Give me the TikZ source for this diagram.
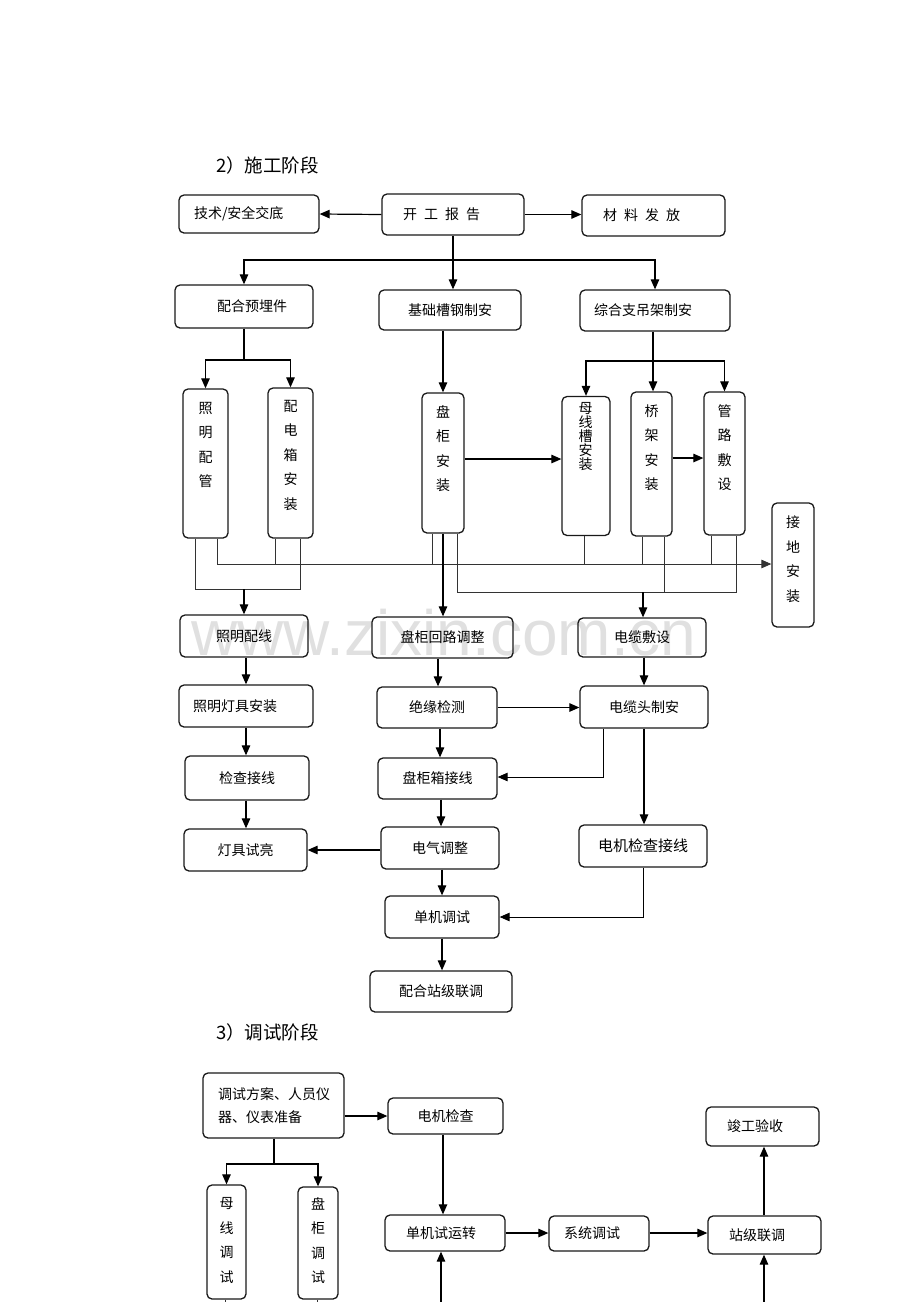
\documentclass[tikz,border=0pt]{standalone}
\usepackage{fontspec}
\setmainfont{Noto Sans CJK SC}
\newfontfamily\wmfont{Liberation Sans}
\usetikzlibrary{arrows.meta}
\newcommand{\myfs}[2]{\fontsize{#1}{#2}\selectfont}
\begin{document}
\begin{tikzpicture}[x=1pt,y=-1pt,
  box/.style={draw=black!90, rounded corners=5pt, line width=1.3pt, inner sep=0pt, font=\myfs{14}{16}},
  vt/.style={align=center, inner sep=0pt, font=\myfs{14}{24.5}},
  arr/.style={line width=1.2pt, -{Triangle[length=10pt,width=8.5pt]}},
  ln/.style={line width=1.2pt},
  wire/.style={line width=0.9pt, draw=black!80},
  ttl/.style={anchor=west, inner sep=0pt, font=\myfs{18.5}{20}},
  wm/.style={inner sep=0pt, text=black!12, font=\wmfont\myfs{64}{70}}]
\useasboundingbox (0,0) rectangle (920,1302);
% watermark
\node[wm] (wm) at (444,633) {www.zixin.com.cn};
% titles
\node[ttl] (t2) at (216,165) {2）施工阶段};
\node[ttl] (t3) at (216,1032) {3）调试阶段};
% ---------- stage 2 ----------
\node[box, minimum width=140pt, minimum height=38pt, text width=110pt, align=left] (jishu) at (249,214) {技术/安全交底};
\node[box, minimum width=142pt, minimum height=41pt, text width=100pt, align=left] (kaigong) at (453,214.5) {开\hspace{7pt}工\hspace{7pt}报\hspace{7pt}告};
\node[box, minimum width=143pt, minimum height=41pt, text width=101pt, align=left] (cailiao) at (653.5,215.5) {材\hspace{7pt}料\hspace{7pt}发\hspace{7pt}放};
\node[box, minimum width=138pt, minimum height=43pt, text width=86pt, align=right] (peihe) at (244,306.5) {配合预埋件};
\node[box, minimum width=142pt, minimum height=40pt] (jichu) at (450,310) {基础槽钢制安};
\node[box, minimum width=150pt, minimum height=41pt, text width=122pt, align=left] (zonghe) at (655,310.5) {综合支吊架制安};
% vertical boxes
\node[box, minimum width=45pt, minimum height=149pt] (zmpg) at (205.5,463.5) {};
\node[vt] (zmpgT) at (205.5,445) {照\\明\\配\\管};
\node[box, minimum width=45pt, minimum height=150pt] (pdx) at (290.5,463) {};
\node[vt] (pdxT) at (290.5,455) {配\\电\\箱\\安\\装};
\node[box, minimum width=42pt, minimum height=140pt] (pgaz) at (443,463) {};
\node[vt] (pgazT) at (443,448.5) {盘\\柜\\安\\装};
\node[box, minimum width=48pt, minimum height=139pt] (mxc) at (586,466) {};
\node[vt, font=\myfs{14}{14}] (mxcT) at (585.5,437) {母\\线\\槽\\安\\装};
\node[box, minimum width=41pt, minimum height=144pt] (qj) at (651.5,464) {};
\node[vt] (qjT) at (651.5,447.5) {桥\\架\\安\\装};
\node[box, minimum width=41pt, minimum height=143pt] (glfs) at (724.5,463.5) {};
\node[vt] (glfsT) at (724.5,447.5) {管\\路\\敷\\设};
\node[box, minimum width=42pt, minimum height=124pt] (jd) at (793,565) {};
\node[vt] (jdT) at (793,559) {接\\地\\安\\装};
% lower rows
\node[box, minimum width=128pt, minimum height=42pt] (zmpx) at (244,636) {照明配线};
\node[box, minimum width=141pt, minimum height=41pt] (pghl) at (442.5,637.5) {盘柜回路调整};
\node[box, minimum width=128pt, minimum height=39pt] (dlfs) at (642,637.5) {电缆敷设};
\node[box, minimum width=134pt, minimum height=42pt, text width=106pt, align=left] (zmdj) at (246,706) {照明灯具安装};
\node[box, minimum width=120pt, minimum height=41pt] (jyjc) at (437,707.5) {绝缘检测};
\node[box, minimum width=128pt, minimum height=42pt] (dlt) at (644,707) {电缆头制安};
\node[box, minimum width=124pt, minimum height=44pt] (jcjx) at (247,778) {检查接线};
\node[box, minimum width=119pt, minimum height=41pt] (pgxjx) at (437.5,778.5) {盘柜箱接线};
\node[box, minimum width=123pt, minimum height=42pt] (djsl) at (245.5,850) {灯具试亮};
\node[box, minimum width=118pt, minimum height=42pt] (dqtz) at (440,848) {电气调整};
\node[box, minimum width=128pt, minimum height=42pt, font=\myfs{15}{17}] (djjcjx) at (643,846) {电机检查接线};
\node[box, minimum width=114pt, minimum height=42pt] (djts) at (442,917) {单机调试};
\node[box, minimum width=142pt, minimum height=41pt] (phzj) at (441,991.5) {配合站级联调};
% connectors stage 2
\draw[arr] (kaigong.west) -- (jishu.east);
\draw[arr] (kaigong.east) -- (kaigong.east -| cailiao.west);
\coordinate (b1) at (453,260);
\draw[ln] (kaigong.south) -- (b1);
\draw[arr] (b1) -- (kaigong.south |- jichu.north);
\draw[arr] (b1) -| (peihe.north);
\draw[arr] (b1) -| (zonghe.north);
\coordinate (b2) at (244,360);
\draw[ln] (peihe.south) -- (b2);
\draw[arr] (b2) -| (zmpg.north);
\draw[arr] (b2) -| (pdx.north);
\draw[arr] (pgaz.north |- jichu.south) -- (pgaz.north);
\coordinate (b3) at (653,361);
\draw[ln] (b3 |- zonghe.south) -- (b3);
\draw[arr] (b3) -- (b3 |- qj.north);
\draw[arr] (b3) -| (mxc.north);
\draw[arr] (b3) -| (glfs.north);
\draw[arr] (pgaz.east |- 0,459) -- (mxc.west |- 0,459);
\draw[arr] (qj.east |- 0,458) -- (glfs.west |- 0,458);
% wires to grounding
\draw[wire, arr, line width=0.9pt] (zmpg.south -| 217,0) -- (217,564) -- (jd.west |- 0,564);
\foreach \n/\x in {pdx/275, pgaz/432, mxc/584, qj/642, glfs/711}
  \draw[wire] (\n.south -| \x,0) -- (\x,564);
\draw[wire] (zmpg.south -| 195,0) -- (195,589) -- (300,589) -- (pdx.south -| 300,0);
\coordinate (b4) at (244,589);
\draw[arr] (b4) -- (zmpx.north);
\draw[arr] (pgaz.south) -- (pgaz.south |- pghl.north);
\draw[wire] (pgaz.south -| 457,0) -- (457,592) -- (736,592) -- (glfs.south -| 736,0);
\draw[wire] (qj.south -| 664,0) -- (664,592);
\coordinate (b5) at (643,592);
\draw[arr] (b5) -- (b5 |- dlfs.north);
% lower chain
\draw[arr] (zmpx.south -| 246,0) -- (zmdj.north -| 246,0);
\draw[arr] (zmdj.south -| 246,0) -- (jcjx.north -| 246,0);
\draw[arr] (jcjx.south -| 246,0) -- (djsl.north -| 246,0);
\draw[arr] (pghl.south -| 438,0) -- (jyjc.north -| 438,0);
\draw[arr] (jyjc.south -| 440,0) -- (pgxjx.north -| 440,0);
\draw[arr] (pgxjx.south -| 441,0) -- (dqtz.north -| 441,0);
\draw[arr] (dqtz.south -| 442,0) -- (djts.north -| 442,0);
\draw[arr] (djts.south -| 442,0) -- (phzj.north -| 442,0);
\draw[arr] (dlfs.south -| 644,0) -- (dlt.north -| 644,0);
\draw[arr] (dlt.south -| 644,0) -- (djjcjx.north -| 644,0);
\draw[arr] (jyjc.east) -- (jyjc.east -| dlt.west);
\draw[arr, line width=0.9pt] (dlt.south -| 603,0) -- (603,777) -- (pgxjx.east |- 0,777);
\draw[arr] (dqtz.west |- 0,850) -- (djsl.east |- 0,850);
\draw[arr, line width=0.9pt] (djjcjx.south -| 643,0) -- (643,917) -- (djts.east |- 0,917);
% ---------- stage 3 ----------
\node[box, minimum width=141pt, minimum height=65pt, text width=111pt, align=left, font=\myfs{14}{23}] (tsfa) at (273.5,1105.5) {调试方案、人员仪\\器、仪表准备};
\node[box, minimum width=115pt, minimum height=36pt] (djjc) at (445.5,1116) {电机检查};
\node[box, minimum width=113pt, minimum height=39pt, text width=71pt, align=left] (jgys) at (762.5,1126.5) {竣工验收};
\node[box, minimum width=39pt, minimum height=114pt] (mxts) at (226.5,1242) {};
\node[vt] (mxtsT) at (226.5,1240.5) {母\\线\\调\\试};
\node[box, minimum width=40pt, minimum height=112pt] (pgts) at (318,1243) {};
\node[vt] (pgtsT) at (318,1240.5) {盘\\柜\\调\\试};
\node[box, minimum width=120pt, minimum height=36pt, text width=78pt, align=left] (djsyz) at (445,1233) {单机试运转};
\node[box, minimum width=100pt, minimum height=35pt, text width=70pt, align=left] (xtts) at (599,1233.5) {系统调试};
\node[box, minimum width=113pt, minimum height=38pt, text width=71pt, align=left] (zjlt) at (764.5,1235) {站级联调};
\draw[arr] (tsfa.east |- djjc.west) -- (djjc.west);
\coordinate (b6) at (274,1164);
\draw[ln] (tsfa.south -| 274,0) -- (b6);
\draw[arr] (b6) -| (mxts.north);
\draw[arr] (b6) -| (pgts.north);
\draw[arr] (djjc.south -| 443,0) -- (djsyz.north -| 443,0);
\draw[arr] (djsyz.east |- 0,1233) -- (xtts.west |- 0,1233);
\draw[arr] (xtts.east |- 0,1233) -- (zjlt.west |- 0,1233);
\draw[arr] (zjlt.north -| 764,0) -- (jgys.south -| 764,0);
\coordinate (e1) at (441,1302);
\draw[arr] (e1) -- (djsyz.south -| 441,0);
\coordinate (e2) at (764,1302);
\draw[arr] (e2) -- (zjlt.south -| 764,0);
\coordinate (e3) at (225,1302);
\draw[wire] (mxts.south -| 225,0) -- (e3);
\coordinate (e4) at (317,1302);
\draw[wire] (pgts.south -| 317,0) -- (e4);
\end{tikzpicture}
\end{document}
